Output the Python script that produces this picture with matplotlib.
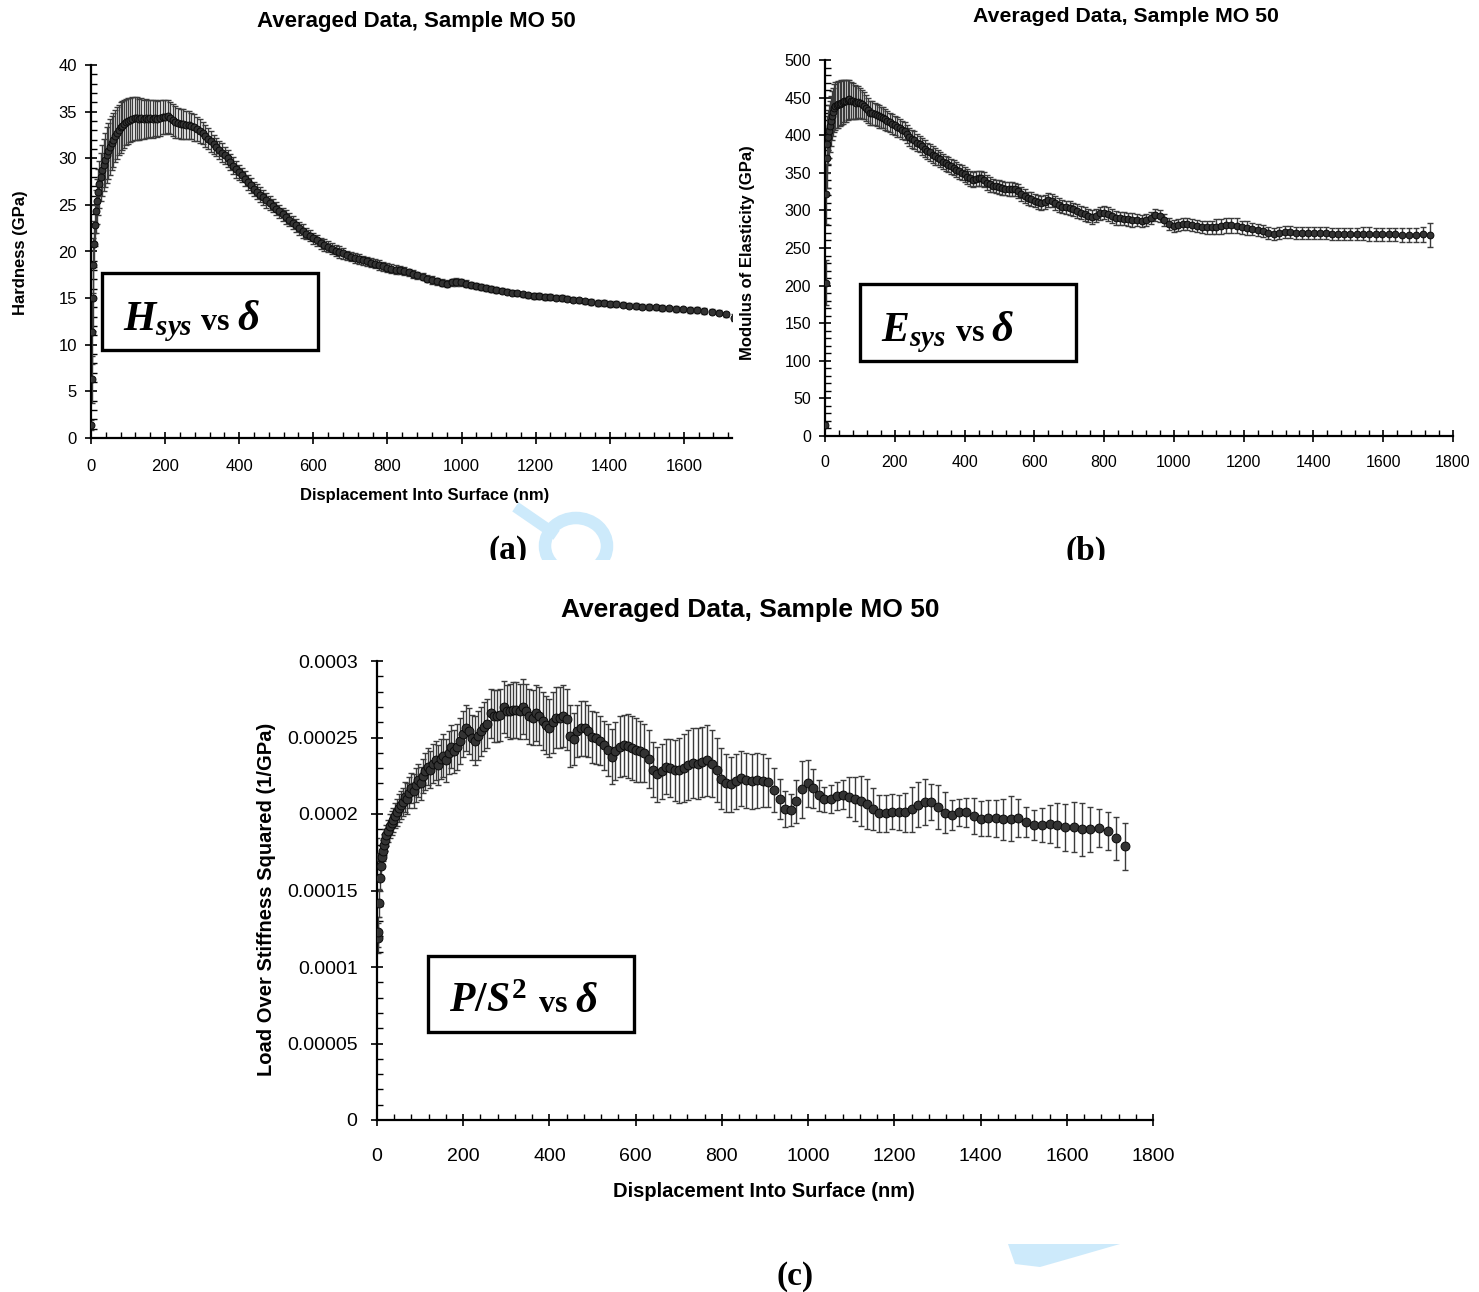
import numpy as np
import matplotlib
matplotlib.use('Agg')
import matplotlib.pyplot as plt
from matplotlib.ticker import MultipleLocator, FixedLocator, FixedFormatter
from matplotlib.patches import Rectangle, Ellipse, Polygon
from matplotlib.lines import Line2D

plt.rcParams['font.family'] = ['Liberation Sans', 'DejaVu Sans']
plt.rcParams['mathtext.fontset'] = 'custom'
plt.rcParams['mathtext.rm'] = 'Liberation Serif:bold'
plt.rcParams['mathtext.it'] = 'Liberation Serif:bold:italic'
plt.rcParams['mathtext.bf'] = 'Liberation Serif:bold'

# ---------------- data ----------------
displacement_nm = [0.5, 1.5, 3, 4.5, 6.5, 8.5, 11, 13.5, 16, 19,
    22, 26, 30, 34, 38, 42, 46.5, 51, 55.5, 60,
    65, 70, 75, 80, 85, 90, 95.5, 101, 106.5, 112,
    118, 124, 130, 136, 142, 148, 154, 160, 166, 172.5,
    179, 186, 193, 200, 207, 214, 221, 228, 235, 242,
    249, 256, 263.5, 271, 278.5, 286, 293.5, 301, 308.5, 316,
    323.5, 331, 338.5, 346, 353.5, 361, 368.5, 376, 384, 392,
    400, 408, 416, 424, 432, 440, 448, 456.5, 465, 473.5,
    482, 490.5, 499, 508, 517, 526, 535, 544, 553, 562.5,
    572, 581.5, 591, 600.5, 610, 620, 630, 640, 650, 660,
    670, 680.5, 691, 701.5, 712, 722.5, 733, 744, 755, 766,
    777, 788, 799, 810.5, 822, 833.5, 845, 857, 869, 881,
    895, 908, 921, 934, 947, 960, 973, 986, 999, 1012,
    1025, 1038, 1052, 1066, 1080, 1094, 1108, 1122, 1136, 1150,
    1165, 1180, 1195, 1210, 1225, 1240, 1255, 1270, 1286, 1302,
    1318, 1334, 1350, 1367, 1384, 1401, 1418, 1435, 1452, 1470,
    1488, 1506, 1524, 1542, 1560, 1578, 1597, 1616, 1635, 1655,
    1675, 1695, 1715, 1735]

hardness_gpa = [1.4, 6.3, 11.4, 15.0, 18.5, 20.8, 22.8, 24.3, 25.4, 26.4,
    27.2, 28.0, 28.7, 29.3, 29.8, 30.3, 30.8, 31.2, 31.6, 32.0,
    32.4, 32.7, 33.0, 33.3, 33.5, 33.7, 33.9, 34.0, 34.1, 34.2,
    34.3, 34.3, 34.2, 34.3, 34.2, 34.3, 34.2, 34.3, 34.2, 34.3,
    34.2, 34.3, 34.4, 34.4, 34.5, 34.3, 34.1, 33.9, 33.8, 33.7,
    33.7, 33.6, 33.6, 33.5, 33.3, 33.1, 32.9, 32.7, 32.4, 32.1,
    31.8, 31.5, 31.2, 30.9, 30.6, 30.3, 30.0, 29.6, 29.2, 28.8,
    28.5, 28.2, 27.8, 27.4, 27.1, 26.7, 26.4, 26.1, 25.8, 25.5,
    25.2, 24.9, 24.6, 24.3, 24.0, 23.7, 23.4, 23.1, 22.8, 22.5,
    22.2, 21.9, 21.7, 21.4, 21.2, 20.9, 20.7, 20.5, 20.3, 20.1,
    19.95, 19.8, 19.6, 19.45, 19.3, 19.2, 19.05, 18.95, 18.8, 18.7,
    18.55, 18.4, 18.25, 18.15, 18.05, 18.0, 17.9, 17.75, 17.6, 17.45,
    17.3, 17.1, 16.95, 16.8, 16.65, 16.55, 16.7, 16.75, 16.7, 16.55,
    16.4, 16.3, 16.2, 16.1, 16.0, 15.9, 15.8, 15.7, 15.6, 15.5,
    15.4, 15.3, 15.25, 15.2, 15.15, 15.1, 15.05, 15.0, 14.95, 14.85,
    14.75, 14.65, 14.6, 14.5, 14.45, 14.4, 14.35, 14.3, 14.2, 14.15,
    14.1, 14.05, 14.0, 13.95, 13.9, 13.85, 13.8, 13.75, 13.7, 13.6,
    13.55, 13.45, 13.25, 12.9]

hardness_err = [0.5, 2.5, 3.5, 3.5, 3.0, 2.5, 2.2, 2.3, 2.4, 2.5,
    2.5, 2.6, 2.7, 2.8, 2.9, 3.0, 3.0, 3.0, 2.9, 2.9,
    2.8, 2.8, 2.7, 2.7, 2.6, 2.6, 2.5, 2.5, 2.4, 2.4,
    2.3, 2.3, 2.2, 2.2, 2.1, 2.1, 2.0, 2.0, 2.0, 1.9,
    1.9, 1.9, 1.8, 1.8, 1.8, 1.7, 1.7, 1.7, 1.6, 1.6,
    1.6, 1.5, 1.5, 1.4, 1.4, 1.3, 1.3, 1.2, 1.2, 1.1,
    1.1, 1.0, 1.0, 1.0, 1.0, 0.9, 0.9, 0.9, 0.9, 0.9,
    0.8, 0.8, 0.8, 0.8, 0.8, 0.8, 0.8, 0.8, 0.8, 0.8,
    0.7, 0.7, 0.7, 0.7, 0.7, 0.7, 0.7, 0.7, 0.7, 0.7,
    0.7, 0.6, 0.6, 0.6, 0.6, 0.6, 0.6, 0.6, 0.6, 0.6,
    0.6, 0.6, 0.5, 0.5, 0.5, 0.5, 0.5, 0.5, 0.5, 0.5,
    0.5, 0.5, 0.5, 0.5, 0.5, 0.4, 0.4, 0.4, 0.4, 0.4,
    0.4, 0.4, 0.4, 0.4, 0.4, 0.4, 0.4, 0.4, 0.4, 0.4,
    0.3, 0.3, 0.3, 0.3, 0.3, 0.3, 0.3, 0.3, 0.3, 0.3,
    0.3, 0.3, 0.3, 0.3, 0.3, 0.3, 0.3, 0.3, 0.3, 0.3,
    0.3, 0.3, 0.3, 0.3, 0.3, 0.3, 0.3, 0.3, 0.3, 0.3,
    0.3, 0.3, 0.3, 0.3, 0.3, 0.3, 0.3, 0.3, 0.3, 0.3,
    0.3, 0.3, 0.3, 0.4]

modulus_gpa = [15, 204, 322, 370, 388, 398, 405, 412, 419, 426,
    431, 436, 439, 440, 441, 442, 443, 444, 445, 446,
    447, 448, 446, 445, 444, 443, 444, 443, 441, 439,
    436, 433, 430, 429, 428, 427, 425, 424, 423, 421,
    419, 417, 415, 413, 411, 409, 407, 405, 402, 398,
    395, 393, 390, 388, 385, 382, 379, 377, 374, 372,
    370, 368, 365, 363, 361, 359, 357, 354, 352, 350,
    348, 345, 343, 341, 342, 343, 343, 341, 337, 335,
    333, 332, 331, 330, 329, 328.5, 328.5, 328, 326, 322,
    319, 316, 315, 313, 311, 310, 311, 314, 313, 310,
    307, 305, 304, 303, 301.5, 299, 297, 295, 293, 291.5,
    293, 296, 297, 295, 292.5, 290, 289.5, 289, 288, 287,
    287, 286.5, 287.5, 290, 293.5, 292, 287, 282, 279, 280,
    282, 282.5, 281, 279, 277.5, 277.5, 277.5, 278, 279, 280,
    280.5, 279.5, 277.5, 276.5, 275.5, 274, 272, 269.5, 269, 269.5,
    271, 271.5, 270.5, 269.5, 270, 270, 269.5, 269.5, 269, 269,
    268.5, 268.5, 269, 269, 268.5, 268, 268, 268, 268, 267.5,
    267.5, 267.5, 268, 267]

modulus_err = [3, 30, 40, 40, 38, 36, 35, 34, 33, 33,
    32, 32, 32, 31, 31, 30, 30, 29, 28, 28,
    27, 26, 25, 24, 23, 22, 21, 20, 19, 18,
    17, 17, 16, 16, 15, 15, 15, 14, 14, 14,
    13, 13, 13, 13, 13, 12, 12, 12, 12, 12,
    12, 12, 11, 11, 11, 11, 11, 11, 11, 11,
    10, 10, 10, 10, 10, 10, 10, 10, 10, 10,
    10, 10, 10, 10, 10, 10, 10, 10, 10, 10,
    9, 9, 9, 9, 9, 9, 9, 9, 9, 9,
    9, 9, 9, 9, 9, 9, 9, 9, 9, 9,
    9, 9, 9, 9, 9, 9, 9, 9, 9, 9,
    9, 9, 9, 9, 9, 9, 9, 9, 9, 9,
    8, 8, 8, 8, 8, 8, 8, 8, 8, 8,
    8, 8, 8, 8, 8, 9, 9, 10, 10, 10,
    10, 10, 9, 9, 8, 8, 8, 8, 8, 8,
    8, 8, 8, 8, 8, 8, 8, 8, 8, 8,
    8, 8, 8, 9, 9, 9, 9, 9, 9, 9,
    9, 9, 10, 16]

# load over stiffness squared, in units of 1e-5 1/GPa
p_over_s2_e5 = [17.2, 11.9, 12.3, 14.2, 15.8, 16.6, 17.2, 17.6, 18.0, 18.3,
    18.6, 18.9, 19.2, 19.4, 19.6, 19.9, 20.1, 20.4, 20.6, 20.8,
    21.1, 21.0, 21.4, 21.7, 21.5, 21.9, 22.2, 22.0, 22.5, 22.8,
    23.1, 22.9, 23.3, 23.5, 23.2, 23.6, 23.8, 23.5, 24.0, 24.4,
    24.1, 24.4, 24.8, 25.2, 25.6, 25.4, 25.0, 24.8, 25.1, 25.4,
    25.7, 25.9, 26.6, 26.4, 26.4, 26.5, 27.0, 26.7, 26.7, 26.8,
    26.8, 26.7, 27.0, 26.7, 26.4, 26.3, 26.6, 26.4, 26.1, 25.8,
    25.6, 26.0, 26.3, 26.3, 26.4, 26.2, 25.1, 24.9, 25.4, 25.6,
    25.6, 25.4, 25.05, 24.95, 24.8, 24.5, 24.2, 23.75, 24.1, 24.4,
    24.5, 24.45, 24.3, 24.2, 24.1, 24.0, 23.6, 22.9, 22.6, 22.8,
    23.1, 23.0, 22.85, 22.85, 23.0, 23.2, 23.35, 23.3, 23.4, 23.5,
    23.3, 22.9, 22.3, 22.0, 21.95, 22.15, 22.35, 22.2, 22.15, 22.2,
    22.18, 22.07, 21.57, 20.96, 20.33, 20.26, 20.83, 21.61, 22.0, 21.68,
    21.22, 20.96, 20.96, 21.18, 21.26, 21.09, 20.98, 20.85, 20.65, 20.33,
    20.04, 20.04, 20.15, 20.1, 20.1, 20.3, 20.61, 20.78, 20.78, 20.44,
    20.09, 19.91, 20.1, 20.1, 19.89, 19.7, 19.72, 19.72, 19.65, 19.7,
    19.74, 19.5, 19.28, 19.28, 19.33, 19.28, 19.13, 19.13, 19.0, 19.0,
    19.1, 18.91, 18.41, 17.89]

p_over_s2_err_e5 = [1.2, 1.0, 1.0, 0.9, 0.8, 0.8, 0.7, 0.7, 0.7, 0.7,
    0.7, 0.7, 0.8, 0.8, 0.8, 0.8, 0.9, 0.9, 0.9, 0.9,
    1.0, 1.0, 1.0, 1.0, 1.1, 1.1, 1.1, 1.1, 1.1, 1.2,
    1.2, 1.2, 1.3, 1.3, 1.3, 1.3, 1.4, 1.4, 1.4, 1.4,
    1.4, 1.5, 1.5, 1.5, 1.5, 1.5, 1.5, 1.6, 1.6, 1.6,
    1.6, 1.6, 1.6, 1.7, 1.7, 1.7, 1.7, 1.7, 1.8, 1.8,
    1.8, 1.8, 1.8, 1.8, 1.8, 1.8, 1.8, 1.9, 1.9, 1.9,
    1.9, 2.0, 2.0, 2.0, 2.0, 2.0, 2.0, 1.7, 1.7, 1.8,
    1.8, 1.7, 1.7, 1.7, 1.6, 1.6, 1.7, 1.8, 1.9, 2.0,
    2.0, 2.1, 2.1, 2.1, 2.0, 1.9, 1.9, 1.8, 1.8, 1.8,
    1.8, 1.9, 2.0, 2.1, 2.2, 2.3, 2.3, 2.3, 2.3, 2.3,
    2.2, 2.1, 2.0, 1.9, 1.8, 1.8, 1.8, 1.8, 1.8, 1.8,
    1.71, 1.6, 1.45, 1.31, 1.2, 1.07, 1.4, 1.88, 1.52, 1.29,
    1.03, 0.81, 0.92, 0.94, 0.96, 1.31, 1.47, 1.64, 1.66, 1.36,
    1.23, 1.23, 1.13, 1.14, 1.25, 1.47, 1.45, 1.48, 1.2, 1.43,
    1.34, 0.98, 0.89, 0.93, 1.17, 1.17, 1.17, 1.2, 1.35, 1.47,
    1.27, 0.98, 0.98, 1.12, 1.25, 1.44, 1.52, 1.63, 1.73, 1.47,
    1.25, 1.24, 1.42, 1.55]

title_text = 'Averaged Data, Sample MO 50'
xlabel_text = 'Displacement Into Surface (nm)'
ylabel_a = 'Hardness (GPa)'
ylabel_b = 'Modulus of Elasticity (GPa)'
ylabel_c = 'Load Over Stiffness Squared (1/GPa)'
yticks_c = [0, 0.00005, 0.0001, 0.00015, 0.0002, 0.00025, 0.0003]
yticklabels_c = ['0', '0.00005', '0.0001', '0.00015', '0.0002', '0.00025', '0.0003']

# ---------------- figure ----------------
W, H = 1479, 1292
fig = plt.figure(figsize=(W / 100, H / 100), dpi=100)


def rect(l, t, r, b):
    return [l / W, 1 - b / H, (r - l) / W, (b - t) / H]


def fx(x):
    return x / W


def fy(y):
    return 1 - y / H


def style(ax, fs, xpad, ypad):
    for s in ['top', 'right']:
        ax.spines[s].set_visible(False)
    for s in ['left', 'bottom']:
        ax.spines[s].set_linewidth(1.6)
        ax.spines[s].set_color('black')
    ax.tick_params(which='major', direction='inout', length=8, width=1.2, labelsize=fs)
    ax.tick_params(which='minor', direction='in', length=4, width=1.0)
    ax.tick_params(axis='x', which='major', pad=xpad)
    ax.tick_params(axis='y', which='major', pad=ypad)


def draw(ax, x, y, e, ms):
    ax.errorbar(x, y, yerr=e, fmt='none', ecolor='#3c3c3c', elinewidth=1.0,
                capsize=2.3, capthick=1.0, zorder=2)
    ax.plot(x, y, 'o', ms=ms, mfc='#333333', mec='#0a0a0a', mew=0.7, zorder=3)


x = np.array(displacement_nm)

# ----- panel (a)
axa = fig.add_axes(rect(91, 65, 732, 438))
draw(axa, x, hardness_gpa, hardness_err, 5.0)
axa.set_xlim(0, 1730)
axa.set_ylim(0, 40)
axa.xaxis.set_major_locator(FixedLocator([0, 200, 400, 600, 800, 1000, 1200, 1400, 1600]))
axa.xaxis.set_minor_locator(MultipleLocator(40))
axa.yaxis.set_major_locator(MultipleLocator(5))
axa.yaxis.set_minor_locator(MultipleLocator(1))
style(axa, 12, 11, 6)
axa.set_xlabel(xlabel_text, fontsize=12, fontweight='bold')
axa.set_ylabel(ylabel_a, fontsize=12, fontweight='bold')
axa.xaxis.set_label_coords(0.521, -0.134)
axa.yaxis.set_label_coords(-0.098, 0.496)

# ----- panel (b)
axb = fig.add_axes(rect(825, 60, 1453, 436))
draw(axb, x, modulus_gpa, modulus_err, 4.9)
axb.set_xlim(0, 1800)
axb.set_ylim(0, 500)
axb.xaxis.set_major_locator(MultipleLocator(200))
axb.xaxis.set_minor_locator(MultipleLocator(40))
axb.yaxis.set_major_locator(MultipleLocator(50))
axb.yaxis.set_minor_locator(MultipleLocator(10))
style(axb, 11.5, 10, 6)
axb.set_ylabel(ylabel_b, fontsize=12, fontweight='bold')
axb.yaxis.set_label_coords(-0.112, 0.487)

# ----- panel (c)
axc = fig.add_axes(rect(377, 661, 1153, 1120))
draw(axc, x, np.array(p_over_s2_e5) * 1e-5, np.array(p_over_s2_err_e5) * 1e-5, 6.4)
axc.set_xlim(0, 1800)
axc.set_ylim(0, 0.0003)
axc.xaxis.set_major_locator(MultipleLocator(200))
axc.xaxis.set_minor_locator(MultipleLocator(40))
axc.yaxis.set_major_locator(FixedLocator(yticks_c))
axc.yaxis.set_major_formatter(FixedFormatter(yticklabels_c))
axc.yaxis.set_minor_locator(MultipleLocator(0.00001))
style(axc, 14, 16, 10)
axc.set_xlabel(xlabel_text, fontsize=14.5, fontweight='bold')
axc.set_ylabel(ylabel_c, fontsize=14.5, fontweight='bold')
axc.xaxis.set_label_coords(0.499, -0.135)
axc.yaxis.set_label_coords(-0.130, 0.4815)

# ----- titles
fig.text(fx(416), fy(22), title_text, ha='center', va='center', fontsize=16, fontweight='bold')
fig.text(fx(1126), fy(17), title_text, ha='center', va='center', fontsize=15.3, fontweight='bold')
fig.text(fx(750), fy(610), title_text, ha='center', va='center', fontsize=19, fontweight='bold')

# ----- annotation boxes: (box l, t, r, b), baseline, symbol part, symbol x, "vs" x, delta x
boxes = [((102, 273, 318, 350), 330, r'$H_{sys}$', 123, 201, 237),
         ((860, 284, 1076, 361), 341, r'$E_{sys}$', 881, 956, 991),
         ((428, 956, 634, 1032), 1012, r'$P/S^{2}$', 449, 539, 575)]
for (l, t, r, b), base, sym, xs, xv, xd in boxes:
    fig.patches.append(Rectangle((fx(l), fy(b)), (r - l) / W, (b - t) / H,
                                 transform=fig.transFigure, fill=True, facecolor='white',
                                 edgecolor='black', linewidth=2.4, zorder=4))
    fig.text(fx(xs), fy(base), sym, ha='left', va='baseline', fontsize=30, zorder=5)
    fig.text(fx(xv), fy(base), 'vs', ha='left', va='baseline', fontsize=23,
             family='Liberation Serif', fontweight='bold', zorder=5)
    fig.text(fx(xd), fy(base), r'$\delta$', ha='left', va='baseline', fontsize=31, zorder=5)

# ----- light-blue watermark fragments
wm = '#cdeafb'
fig.patches.append(Ellipse((fx(576), fy(546)), 62 / W, 56 / H, transform=fig.transFigure,
                           fill=False, edgecolor=wm, linewidth=9, zorder=1))
fig.lines.append(Line2D([fx(520), fx(552)], [fy(510), fy(532)], transform=fig.transFigure,
                        color=wm, linewidth=8, zorder=1))
fig.patches.append(Polygon([(fx(1008), fy(1244)), (fx(1120), fy(1244)), (fx(1075), fy(1257)),
                            (fx(1040), fy(1267)), (fx(1015), fy(1264))],
                           transform=fig.transFigure, facecolor=wm, edgecolor='none', zorder=1))

# ----- panel letters
fig.text(fx(508), fy(551), '(a)', ha='center', va='center', fontsize=24,
         family='Liberation Serif', fontweight='bold', zorder=3)
fig.text(fx(1086), fy(551), '(b)', ha='center', va='center', fontsize=24,
         family='Liberation Serif', fontweight='bold', zorder=3)
fig.text(fx(795), fy(1276), '(c)', ha='center', va='center', fontsize=24,
         family='Liberation Serif', fontweight='bold', zorder=3)

# white band where the upper picture was cropped
fig.patches.append(Rectangle((0, fy(590)), 1, 30 / H, transform=fig.transFigure,
                             facecolor='white', edgecolor='none', zorder=8))

fig.savefig('out.png', dpi=100)
